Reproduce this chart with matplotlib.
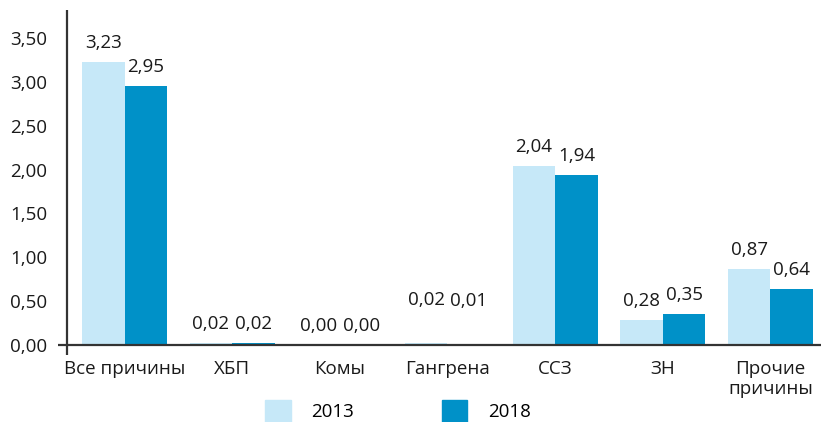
import matplotlib
matplotlib.use("Agg")
import matplotlib.pyplot as plt
from matplotlib.ticker import FuncFormatter, MultipleLocator
from matplotlib.patches import Patch
import numpy as np

plt.rcParams['font.family'] = ['Open Sans', 'DejaVu Sans']

# Data
categories = ["Все причины", "ХБП", "Комы", "Гангрена", "ССЗ", "ЗН", "Прочие\nпричины"]
values_2013 = [3.23, 0.02, 0.00, 0.02, 2.04, 0.28, 0.87]
values_2018 = [2.95, 0.02, 0.00, 0.01, 1.94, 0.35, 0.64]
series_labels = ["2013", "2018"]

color_2013 = "#c6e8f8"
color_2018 = "#0091c8"
axis_color = "#333333"
text_color = "#1a1a1a"
fs = 13.5

fig = plt.figure(figsize=(8.21, 4.22), dpi=100)
ax = fig.add_axes([0.0816, 0.1825, 0.9184, 0.7935])

x = np.arange(len(categories))
w = 0.395
bars1 = ax.bar(x - w / 2, values_2013, w, color=color_2013)
bars2 = ax.bar(x + w / 2, values_2018, w, color=color_2018)

ax.set_xlim(-0.535, 6.47)
ax.set_ylim(0, 3.82)

# value labels (gangrene labels sit higher in the original)
def fmt(v):
    return f"{v:.2f}".replace(".", ",")

for i, (b1, b2) in enumerate(zip(bars1, bars2)):
    extra = 24 if categories[i] == "Гангрена" else 0
    for b, v in ((b1, values_2013[i]), (b2, values_2018[i])):
        ax.annotate(fmt(v), (b.get_x() + b.get_width() / 2, v),
                    xytext=(0, 10 + extra), textcoords="offset pixels",
                    ha="center", va="bottom", fontsize=fs, color=text_color)

# axes lines
for s in ax.spines.values():
    s.set_visible(False)
ax.plot([-0.012, 1], [0, 0], transform=ax.transAxes, color=axis_color,
        lw=1.6, clip_on=False, solid_capstyle="butt")
ax.plot([0, 0], [-0.03, 1], transform=ax.transAxes, color=axis_color,
        lw=1.6, clip_on=False, solid_capstyle="butt")

ax.yaxis.set_major_locator(MultipleLocator(0.5))
ax.yaxis.set_major_formatter(FuncFormatter(lambda v, p: fmt(v)))
ax.set_xticks(x)
ax.set_xticklabels(categories, linespacing=1.1)
ax.tick_params(axis="y", length=0, pad=14, labelsize=fs, labelcolor=text_color)
ax.tick_params(axis="x", length=0, pad=11, labelsize=fs, labelcolor=text_color)

handles = [Patch(color=color_2013), Patch(color=color_2018)]
fig.legend(handles, series_labels, loc="lower center", bbox_to_anchor=(0.485, -0.04),
           ncol=2, frameon=False, fontsize=fs, handlelength=1.35, handleheight=1.4,
           handletextpad=1.1, columnspacing=4.7)

fig.savefig("out.png", dpi=100)
